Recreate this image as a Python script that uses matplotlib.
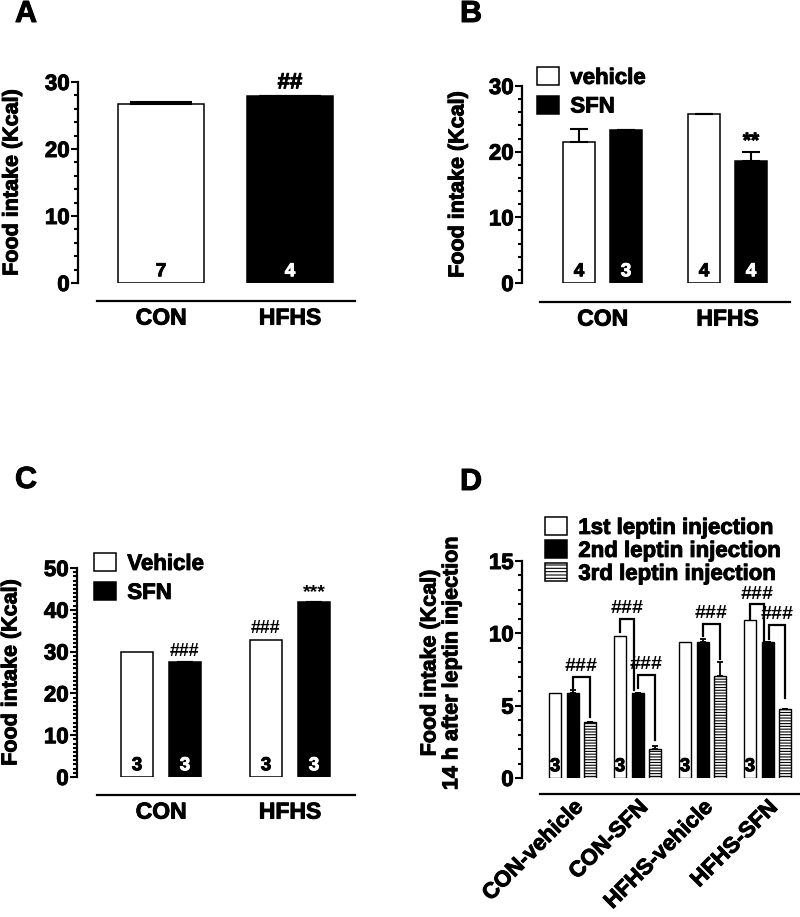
import matplotlib
matplotlib.use("Agg")
import matplotlib.pyplot as plt
import matplotlib.patheffects as pe
from matplotlib.patches import Patch
import numpy as np

plt.rcParams['font.family'] = ['Liberation Sans', 'DejaVu Sans']
plt.rcParams['font.weight'] = 'bold'
plt.rcParams['hatch.linewidth'] = 0.8

# ---- data ----
a_groups = ['CON', 'HFHS']
a_means = [26.7, 27.9]
a_err = [0.3, 0.0]
a_n = ['7', '4']

b_groups = ['CON', 'HFHS']
b_vehicle = [21.5, 25.7]
b_vehicle_err = [1.9, 0.0]
b_sfn = [23.3, 18.6]
b_sfn_err = [0.0, 1.4]
b_n_vehicle = ['4', '4']
b_n_sfn = ['3', '4']

c_groups = ['CON', 'HFHS']
c_vehicle = [29.8, 32.8]
c_sfn = [27.4, 41.8]
c_sfn_err = [0.2, 0.0]
c_n_vehicle = ['3', '3']
c_n_sfn = ['3', '3']

d_groups = ['CON-vehicle', 'CON-SFN', 'HFHS-vehicle', 'HFHS-SFN']
d_first = [5.9, 9.8, 9.4, 10.95]
d_second = [5.9, 5.9, 9.4, 9.4]
d_second_err = [0.2, 0.0, 0.2, 0.0]
d_third = [3.9, 2.0, 7.05, 4.75]
d_third_err = [0.0, 0.2, 0.95, 0.05]
d_n = ['3', '3', '3', '3']
# brackets: group, bar i, bar j, left leg bottom, right leg bottom, top
d_brackets = [
    (0, 1, 2, 6.2, 4.2, 7.0),
    (1, 0, 1, 10.1, 6.1, 11.0),
    (1, 1, 2, 6.2, 2.6, 7.15),
    (2, 1, 2, 9.8, 8.2, 10.65),
    (3, 0, 1, 11.0, 9.45, 12.0),
    (3, 1, 2, 9.6, 5.5, 10.6),
]

W, H = 800, 917
fig = plt.figure(figsize=(W / 100, H / 100), dpi=100)

TICK_FS = 16
LAB_FS = 15.5
CAT_FS = 16.5
LEG_FS = 16
heavy = [pe.withStroke(linewidth=0.7, foreground='black')]
heavy_w = [pe.withStroke(linewidth=0.7, foreground='white')]


def make_axes(left, right, top, bottom):
    return fig.add_axes([left / W, 1 - bottom / H, (right - left) / W, (bottom - top) / H])


def style(ax, ymax, major, minor, sep_left, sep_right, sep_px):
    ax.spines['top'].set_visible(False)
    ax.spines['right'].set_visible(False)
    ax.spines['left'].set_linewidth(1.6)
    ax.spines['bottom'].set_linewidth(1.6)
    ax.spines['bottom'].set_position(('outward', sep_px * 0.72))
    ax.spines['bottom'].set_bounds(sep_left, sep_right)
    ax.set_ylim(0, ymax)
    ax.set_yticks(np.arange(0, ymax + 0.01, major))
    ax.set_yticks(np.arange(0, ymax + 0.01, minor), minor=True)
    ax.tick_params(axis='y', which='major', length=5, width=1.5, pad=1, labelsize=TICK_FS)
    ax.tick_params(axis='y', which='minor', length=3, width=1.5)
    ax.tick_params(axis='x', length=0, pad=4, labelsize=CAT_FS)


def finish(ax):
    for lab in ax.get_yticklabels() + ax.get_xticklabels():
        lab.set_fontweight('bold')
        lab.set_path_effects(heavy)
    ax.yaxis.label.set_path_effects(heavy)


def nlabel(ax, x, text, color):
    ax.annotate(text, (x, 0), xytext=(0, 2), textcoords='offset points',
                ha='center', va='bottom', fontsize=13.5, fontweight='bold', color=color,
                path_effects=heavy if color == 'black' else heavy_w)


def legend(ax, handles, x, y, spacing):
    leg = ax.legend(handles=handles, loc='upper left', bbox_to_anchor=(x / W, 1 - y / H),
                    bbox_transform=fig.transFigure, frameon=False, fontsize=LEG_FS,
                    handlelength=1.0, handleheight=0.9, handletextpad=0.5,
                    labelspacing=spacing, borderpad=0, borderaxespad=0)
    for t in leg.get_texts():
        t.set_path_effects(heavy)


# ---------------- Panel A ----------------
axA = make_axes(78, 355, 82, 283)
xa = np.array([0, 1.5])
axA.bar(xa, a_means, width=1.0, color=['white', 'black'], edgecolor='black', linewidth=1.1)
axA.errorbar(xa, a_means, yerr=[np.zeros(2), a_err], fmt='none', ecolor='black',
             elinewidth=1.5, capsize=22, capthick=1.5)
axA.set_xlim(-0.965, 2.256)
style(axA, 30, 10, 2, -0.744, 2.256, 18)
axA.set_xticks(xa)
axA.set_xticklabels(a_groups)
axA.set_ylabel('Food intake (Kcal)', fontsize=LAB_FS, fontweight='bold')
axA.yaxis.set_label_coords(-0.2, 0.5)
nlabel(axA, xa[0], a_n[0], 'black')
nlabel(axA, xa[1], a_n[1], 'white')
axA.text(xa[1], a_means[1] + 0.4, '##', ha='center', va='bottom', fontsize=16, fontweight='bold',
         path_effects=heavy)
finish(axA)

# ---------------- Panel B ----------------
axB = make_axes(522, 790, 86, 283)
xb = np.arange(2)
wb, ob = 0.256, 0.188
axB.bar(xb - ob, b_vehicle, width=wb, color='white', edgecolor='black', linewidth=1.1)
axB.bar(xb + ob, b_sfn, width=wb, color='black', edgecolor='black', linewidth=1.1)
axB.errorbar(xb - ob, b_vehicle, yerr=[np.zeros(2), b_vehicle_err], fmt='none', ecolor='black',
             elinewidth=1.5, capsize=6.5, capthick=1.5)
axB.errorbar(xb + ob, b_sfn, yerr=[np.zeros(2), b_sfn_err], fmt='none', ecolor='black',
             elinewidth=1.5, capsize=6.5, capthick=1.5)
axB.set_xlim(-0.644, 1.5)
style(axB, 30, 10, 2, -0.5, 1.5, 19)
axB.set_xticks(xb)
axB.set_xticklabels(b_groups)
axB.set_ylabel('Food intake (Kcal)', fontsize=LAB_FS, fontweight='bold')
axB.yaxis.set_label_coords(-0.2, 0.5)
for i in range(2):
    nlabel(axB, xb[i] - ob, b_n_vehicle[i], 'black')
    nlabel(axB, xb[i] + ob, b_n_sfn[i], 'white')
axB.text(xb[1] + ob, b_sfn[1] + b_sfn_err[1] + 0.1, '**', ha='center', va='bottom',
         fontsize=15, fontweight='bold', path_effects=heavy)
legend(axB, [Patch(facecolor='white', edgecolor='black', linewidth=1.1, label='vehicle'),
             Patch(facecolor='black', edgecolor='black', linewidth=1.1, label='SFN')],
       537, 67, 0.3)
finish(axB)

# ---------------- Panel C ----------------
axC = make_axes(77, 355, 568, 777)
xc = np.arange(2)
wc, oc = 0.25, 0.186
axC.bar(xc - oc, c_vehicle, width=wc, color='white', edgecolor='black', linewidth=1.1)
axC.bar(xc + oc, c_sfn, width=wc, color='black', edgecolor='black', linewidth=1.1)
axC.errorbar(xc + oc, c_sfn, yerr=[np.zeros(2), c_sfn_err], fmt='none', ecolor='black',
             elinewidth=1.5, capsize=6, capthick=1.5)
axC.set_xlim(-0.651, 1.504)
style(axC, 50, 10, 1, -0.496, 1.504, 18)
axC.set_xticks(xc)
axC.set_xticklabels(c_groups)
axC.set_ylabel('Food intake (Kcal)', fontsize=LAB_FS, fontweight='bold')
axC.yaxis.set_label_coords(-0.2, 0.5)
for i in range(2):
    nlabel(axC, xc[i] - oc, c_n_vehicle[i], 'black')
    nlabel(axC, xc[i] + oc, c_n_sfn[i], 'white')
axC.text(xc[0] + oc, c_sfn[0] + 0.6, '###', ha='center', va='bottom', fontsize=13, fontweight='bold')
axC.text(xc[1] - oc, c_vehicle[1] + 0.6, '###', ha='center', va='bottom', fontsize=13, fontweight='bold')
axC.text(xc[1] + oc, c_sfn[1] + 0.3, '***', ha='center', va='bottom', fontsize=14, fontweight='bold')
legend(axC, [Patch(facecolor='white', edgecolor='black', linewidth=1.1, label='Vehicle'),
             Patch(facecolor='black', edgecolor='black', linewidth=1.1, label='SFN')],
       94, 553, 0.32)
finish(axC)

# ---------------- Panel D ----------------
axD = make_axes(522, 800, 561, 778)
xd = np.arange(4)
wd, od = 0.185, 0.272
axD.bar(xd - od, d_first, width=wd, color='white', edgecolor='black', linewidth=1.0)
axD.bar(xd, d_second, width=wd, color='black', edgecolor='black', linewidth=1.0)
axD.bar(xd + od, d_third, width=wd, color='white', edgecolor='black', linewidth=1.0, hatch='------')
axD.errorbar(xd, d_second, yerr=[np.zeros(4), d_second_err], fmt='none', ecolor='black',
             elinewidth=1.3, capsize=2.5, capthick=1.3)
axD.errorbar(xd + od, d_third, yerr=[np.zeros(4), d_third_err], fmt='none', ecolor='black',
             elinewidth=1.3, capsize=2.5, capthick=1.3)
axD.set_xlim(-0.78, 3.5)
style(axD, 15, 5, 1, -0.5, 3.5, 16)
axD.tick_params(axis='x', pad=2)
axD.set_xticks(xd)
axD.set_xticklabels(d_groups, rotation=45, ha='right', rotation_mode='anchor', fontsize=16)
axD.set_ylabel('Food intake (Kcal)\n14 h after leptin injection', fontsize=LAB_FS,
               fontweight='bold', linespacing=1.05)
axD.yaxis.set_label_coords(-0.215, 0.53)
for i in range(4):
    nlabel(axD, xd[i] - od, d_n[i], 'black')
offsets = [-od, 0, od]
for g, i, j, lb, rb, top in d_brackets:
    xl = g + offsets[i]
    xr = g + offsets[j]
    if j == 1 and i == 0:
        xr -= 0.05
    if i == 1 and g == 3:
        xl += 0.03
    axD.plot([xl, xl, xr, xr], [lb, top, top, rb], color='black', lw=1.6,
             solid_joinstyle='miter', clip_on=False)
    axD.text((xl + xr) / 2, top + 0.1, '###', ha='center', va='bottom', fontsize=14,
             fontweight='bold')
legend(axD, [Patch(facecolor='white', edgecolor='black', linewidth=1.1, label='1st leptin injection'),
             Patch(facecolor='black', edgecolor='black', linewidth=1.1, label='2nd leptin injection'),
             Patch(facecolor='white', edgecolor='black', linewidth=1.1, hatch='-----',
                   label='3rd leptin injection')],
       545, 517, 0.05)
finish(axD)

# panel letters
for letter, x, y in [('A', 15, 22), ('B', 460, 22), ('C', 15, 488), ('D', 460, 490)]:
    fig.text(x / W, 1 - y / H, letter, fontsize=22, fontweight='bold', va='baseline', ha='left',
             path_effects=heavy)

fig.savefig('out.png', dpi=100)
